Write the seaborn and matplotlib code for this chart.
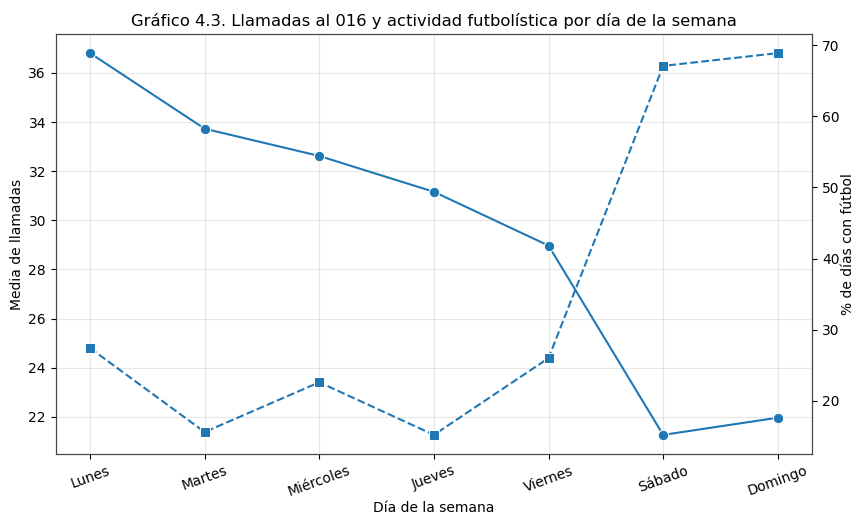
import pandas as pd
import seaborn as sns
import matplotlib.pyplot as plt

# Datos por día de la semana
dias = ['Lunes', 'Martes', 'Miércoles', 'Jueves', 'Viernes', 'Sábado', 'Domingo']
media_llamadas = [36.81, 33.73, 32.62, 31.16, 28.97, 21.26, 21.96]
pct_futbol = [27.4, 15.6, 22.6, 15.2, 26.0, 67.1, 68.9]

df = pd.DataFrame({'dia': dias, 'llamadas': media_llamadas, 'futbol': pct_futbol})

fig, ax1 = plt.subplots(figsize=(8.54, 5.17), dpi=100)
color = '#1f77b4'

sns.lineplot(x='dia', y='llamadas', data=df, marker='o', markersize=7.5,
             color=color, ax=ax1, sort=False)
ax1.set_xlabel('Día de la semana', labelpad=1)
ax1.set_ylabel('Media de llamadas', labelpad=3)
ax1.grid(True, alpha=0.3)
ax1.tick_params(axis='x', rotation=20)

ax2 = ax1.twinx()
sns.lineplot(x='dia', y='futbol', data=df, marker='s', markersize=7.5,
             linestyle='--', color=color, ax=ax2, sort=False)
ax2.set_ylabel('% de días con fútbol', labelpad=1)

for ax in (ax1, ax2):
    for s in ax.spines.values():
        s.set_color('#444444')

plt.title('Gráfico 4.3. Llamadas al 016 y actividad futbolística por día de la semana',
          fontsize=11.8)
fig.subplots_adjust(left=0.0652, right=0.951, top=0.9342, bottom=0.1219)
plt.savefig('out.png', dpi=100)
